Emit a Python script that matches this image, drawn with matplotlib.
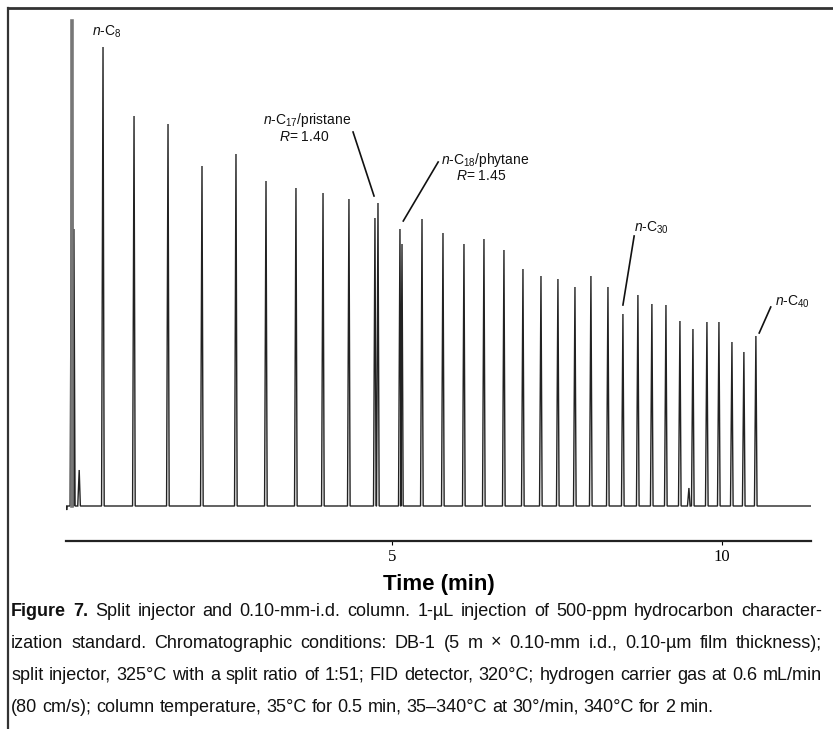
import numpy as np
import matplotlib
matplotlib.use("Agg")
import matplotlib.pyplot as plt
from matplotlib import font_manager as fm

# ---------------- data ----------------
peak_names = ["solvent", "shoulder", "minor1", "n-C8", "n-C9", "n-C10", "n-C11", "n-C12",
              "n-C13", "n-C14", "n-C15", "n-C16", "n-C17", "pristane", "n-C18", "phytane",
              "n-C19", "n-C20", "n-C21", "n-C22", "n-C23", "n-C24", "n-C25", "n-C26",
              "n-C27", "n-C28", "n-C29", "n-C30", "n-C31", "n-C32", "n-C33", "n-C34",
              "minor2", "n-C35", "n-C36", "n-C37", "n-C38", "n-C39", "n-C40"]
peak_times = [0.152, 0.18, 0.26, 0.621, 1.091, 1.606, 2.121, 2.636,
              3.091, 3.545, 3.955, 4.348, 4.742, 4.788, 5.121, 5.152,
              5.455, 5.773, 6.091, 6.394, 6.697, 6.985, 7.258, 7.515,
              7.773, 8.015, 8.273, 8.500, 8.727, 8.939, 9.152, 9.364,
              9.500, 9.561, 9.773, 9.955, 10.152, 10.333, 10.515]
peak_heights = [485, 277, 36, 459, 390, 382, 340, 352,
                325, 318, 313, 307, 288, 303, 277, 262,
                287, 273, 262, 267, 256, 237, 230, 227,
                219, 230, 219, 192, 211, 202, 201, 185,
                18, 177, 184, 184, 164, 154, 170]
run_start, run_end = 0.06, 11.35
x_ticks = [5, 10]
x_label = "Time (min)"

caption_lines = [
    [("Figure 7.", "bold"), ("Split injector and 0.10-mm-i.d. column. 1-µL injection of 500-ppm hydrocarbon character-", "normal")],
    [("ization standard. Chromatographic conditions: DB-1 (5 m × 0.10-mm i.d., 0.10-µm film thickness);", "normal")],
    [("split injector, 325°C with a split ratio of 1:51; FID detector, 320°C; hydrogen carrier gas at 0.6 mL/min", "normal")],
    [("(80 cm/s); column temperature, 35°C for 0.5 min, 35–340°C at 30°/min, 340°C for 2 min.", "normal")],
]

# ---------------- fonts ----------------
available = {f.name for f in fm.fontManager.ttflist}
sans = "Liberation Sans" if "Liberation Sans" in available else "DejaVu Sans"
narrow = "Liberation Sans Narrow" if "Liberation Sans Narrow" in available else sans
serif = "Liberation Serif" if "Liberation Serif" in available else "DejaVu Serif"
plt.rcParams["mathtext.fontset"] = "custom"
plt.rcParams["mathtext.rm"] = sans
plt.rcParams["mathtext.it"] = sans + ":italic"
plt.rcParams["mathtext.bf"] = sans + ":bold"
plt.rcParams["font.family"] = [sans, "DejaVu Sans"]

W, H = 833, 729
fig = plt.figure(figsize=(W / 100, H / 100), dpi=100)

# frame (top and left rule)
fig.add_artist(plt.Line2D([8 / W, 1], [1 - 8 / H, 1 - 8 / H], color="#333333", lw=2.0))
fig.add_artist(plt.Line2D([8 / W, 8 / W], [0, 1 - 8 / H], color="#333333", lw=1.6))

# axes: x from px 66..811, y bottom 541 px, top 16 px
ax_left, ax_right = 66, 811
ax_bottom, ax_top = 541, 16
ax = fig.add_axes([ax_left / W, 1 - ax_bottom / H, (ax_right - ax_left) / W, (ax_bottom - ax_top) / H])
ax.set_xlim(run_start, run_end)
ax.set_ylim(-35, 490)

# build the trace: narrow triangular peaks on a flat baseline
hw = 0.022
xs = [run_start, run_start + 0.01, run_start + 0.02]
ys = [0, -4, 0]
for t, h, name in sorted(zip(peak_times, peak_heights, peak_names)):
    w = 0.03 if name == "solvent" else hw
    xs += [t - w, t, t + w * 0.8]
    ys += [0, h, 0]
xs.append(run_end)
ys.append(0)
ax.plot(xs, ys, color="#222222", lw=1.0, solid_joinstyle="miter")
# heavier solvent front
i = peak_names.index("solvent")
ax.plot([peak_times[i], peak_times[i]], [0, peak_heights[i]], color="#777777", lw=2.6)

# axis styling
for s in ["top", "right", "left"]:
    ax.spines[s].set_visible(False)
ax.spines["bottom"].set_linewidth(1.6)
ax.spines["bottom"].set_color("#222222")
ax.set_yticks([])
ax.set_xticks(x_ticks)
ax.set_xticklabels([str(v) for v in x_ticks], fontfamily=serif, fontsize=12)
ax.tick_params(axis="x", direction="out", length=3, width=0.8, pad=3)
ax.set_xlabel(x_label, fontsize=16, fontweight="bold", fontfamily=sans, labelpad=6)

# annotations
def pk(name):
    j = peak_names.index(name)
    return peak_times[j], peak_heights[j]

lab = dict(fontsize=10, color="#111111")
t8, h8 = pk("n-C8")
ax.text(t8 - 0.17, 474, r"$\it{n}$-C$_8$", ha="left", va="center", **lab)

tp, hp = pk("pristane")
ax.text(3.71, 386, r"$\it{n}$-C$_{17}$/pristane", ha="center", va="center", **lab)
ax.text(3.67, 369, r"$\it{R}$= 1.40", ha="center", va="center", **lab)
ax.plot([4.41, tp - 0.06], [374, hp + 7], color="#111111", lw=1.2)

tf, hf = pk("n-C18")
ax.text(6.41, 346, r"$\it{n}$-C$_{18}$/phytane", ha="center", va="center", **lab)
ax.text(6.35, 330, r"$\it{R}$= 1.45", ha="center", va="center", **lab)
ax.plot([5.70, tf + 0.05], [344, hf + 8], color="#111111", lw=1.2)

t30, h30 = pk("n-C30")
ax.text(8.67, 278, r"$\it{n}$-C$_{30}$", ha="left", va="center", **lab)
ax.plot([8.67, t30], [270, h30 + 9], color="#111111", lw=1.2)

t40, h40 = pk("n-C40")
ax.text(10.80, 204, r"$\it{n}$-C$_{40}$", ha="left", va="center", **lab)
ax.plot([10.74, t40 + 0.05], [199, h40 + 3], color="#111111", lw=1.2)

# caption, justified
fig.canvas.draw()
renderer = fig.canvas.get_renderer()
cap_x0, cap_x1 = 11, 822
cap_ys = [612, 643, 675, 707]
cap_size = 13
for li, (parts, ypx) in enumerate(zip(caption_lines, cap_ys)):
    words = []
    for txt, wt in parts:
        for wd in txt.split(" "):
            words.append((wd, wt))
    arts = []
    for wd, wt in words:
        a = fig.text(0, 1 - ypx / H, wd, fontsize=cap_size, fontweight=wt,
                     fontfamily=narrow, va="center", ha="left", color="#111111")
        arts.append(a)
    widths = [a.get_window_extent(renderer).width for a in arts]
    space = fig.text(0, 0, "a a", fontsize=cap_size, fontfamily=narrow)
    sp = space.get_window_extent(renderer).width
    space.remove()
    sp -= fig.text(0, 0, "aa", fontsize=cap_size, fontfamily=narrow).get_window_extent(renderer).width
    fig.texts[-1].remove()
    if li < len(caption_lines) - 1:
        gap = (cap_x1 - cap_x0 - sum(widths)) / (len(words) - 1)
    else:
        gap = sp
    x = cap_x0
    for a, w in zip(arts, widths):
        a.set_x(x / W)
        x += w + gap

fig.savefig("out.png", dpi=100)
